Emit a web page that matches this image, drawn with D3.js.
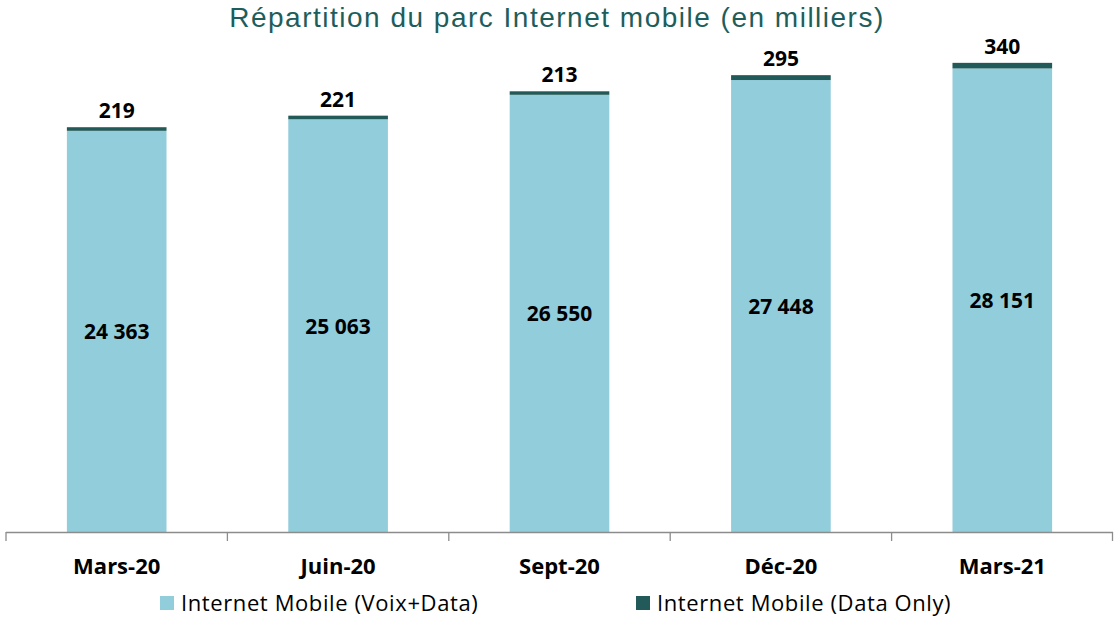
<!DOCTYPE html>
<html>
<head>
<meta charset="utf-8">
<script src="https://cdn.jsdelivr.net/npm/d3@7"></script>
<style>
  body { margin: 0; background: #fff; }
  svg text { font-family: "Open Sans", "Noto Sans", sans-serif; }
</style>
</head>
<body>
<div id="chart"></div>
<script>
var categories = ["Mars-20", "Juin-20", "Sept-20", "Déc-20", "Mars-21"];
var voixData = [24363, 25063, 26550, 27448, 28151];
var dataOnly = [219, 221, 213, 295, 340];
var seriesNames = ["Internet Mobile (Voix+Data)", "Internet Mobile (Data Only)"];
var seriesColors = ["#92cddc", "#215a58"];

var width = 1114, height = 619;
var fmt = function(v) { return d3.format(",")(v).replace(/,/g, " "); };

var svg = d3.select("#chart").append("svg")
  .attr("width", width)
  .attr("height", height);

var rows = categories.map(function(c, i) {
  return { cat: c, voix: voixData[i], data: dataOnly[i] };
});
var stacked = d3.stack().keys(["voix", "data"])(rows);

var x = d3.scaleBand()
  .domain(categories)
  .range([6, 1113])
  .paddingInner(0.55)
  .paddingOuter(0.275);

var y = d3.scaleLinear()
  .domain([0, 30000])
  .range([532, 38]);

// title
svg.append("text")
  .attr("x", 557)
  .attr("y", 27)
  .attr("text-anchor", "middle")
  .style("font-family", "'Liberation Sans', Arial, sans-serif")
  .style("font-size", "28px")
  .style("letter-spacing", "1.5px")
  .attr("fill", "#1d5e5c")
  .text("Répartition du parc Internet mobile (en milliers)");

// bars
svg.append("g").selectAll("g")
  .data(stacked)
  .enter()
  .append("g")
  .attr("fill", function(d, i) { return seriesColors[i]; })
  .selectAll("rect")
  .data(function(d) { return d; })
  .enter()
  .append("rect")
  .attr("x", function(d) { return x(d.data.cat); })
  .attr("width", x.bandwidth())
  .attr("y", function(d) { return y(d[1]); })
  .attr("height", function(d) { return y(d[0]) - y(d[1]); });

// value labels inside light segment
svg.append("g").selectAll("text")
  .data(rows)
  .enter()
  .append("text")
  .attr("x", function(d) { return x(d.cat) + x.bandwidth() / 2; })
  .attr("y", function(d) { return (y(0) + y(d.voix)) / 2 + 8; })
  .attr("text-anchor", "middle")
  .style("font-size", "21px")
  .style("font-weight", "bold")
  .attr("fill", "#000")
  .text(function(d) { return fmt(d.voix); });

// labels above bars (Data Only)
svg.append("g").selectAll("text")
  .data(rows)
  .enter()
  .append("text")
  .attr("x", function(d) { return x(d.cat) + x.bandwidth() / 2; })
  .attr("y", function(d) { return y(d.voix + d.data) - 9; })
  .attr("text-anchor", "middle")
  .style("font-size", "21px")
  .style("font-weight", "bold")
  .attr("fill", "#000")
  .text(function(d) { return fmt(d.data); });

// x axis: baseline with ticks at category boundaries
var axis = svg.append("g");
axis.append("line")
  .attr("x1", 6).attr("x2", 1113)
  .attr("y1", 532.5).attr("y2", 532.5)
  .attr("stroke", "#8c8c8c")
  .attr("stroke-width", 1.3);
var step = x.step();
var bounds = d3.range(categories.length + 1).map(function(i) { return 6 + i * step; });
axis.selectAll("line.tick")
  .data(bounds)
  .enter()
  .append("line")
  .attr("class", "tick")
  .attr("x1", function(d) { return Math.min(d, 1112.5); })
  .attr("x2", function(d) { return Math.min(d, 1112.5); })
  .attr("y1", 532).attr("y2", 541)
  .attr("stroke", "#8c8c8c")
  .attr("stroke-width", 1.3);
axis.selectAll("text")
  .data(categories)
  .enter()
  .append("text")
  .attr("x", function(d) { return x(d) + x.bandwidth() / 2; })
  .attr("y", 574)
  .attr("text-anchor", "middle")
  .style("font-size", "22px")
  .style("font-weight", "bold")
  .attr("fill", "#000")
  .text(function(d) { return d; });

// legend
var legendX = [160, 636];
var legend = svg.append("g").selectAll("g")
  .data(seriesNames)
  .enter()
  .append("g")
  .attr("transform", function(d, i) { return "translate(" + legendX[i] + ",596)"; });
legend.append("rect")
  .attr("width", 14).attr("height", 14)
  .attr("fill", function(d, i) { return seriesColors[i]; });
legend.append("text")
  .attr("x", 21)
  .attr("y", 15)
  .style("font-size", "22px")
  .style("letter-spacing", "0.6px")
  .attr("fill", "#000")
  .text(function(d) { return d; });
</script>
</body>
</html>
